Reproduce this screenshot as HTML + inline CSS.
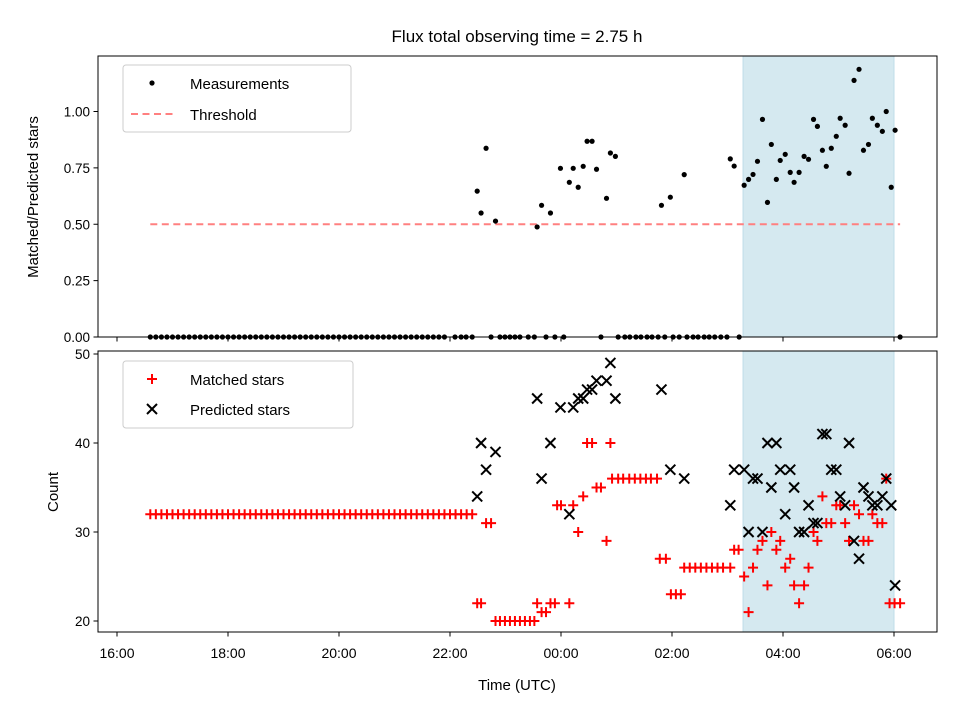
<!DOCTYPE html>
<html><head><meta charset="utf-8"><style>
body{margin:0;background:#fff;position:relative}
svg{font-family:"Liberation Sans","DejaVu Sans",sans-serif}
</style></head><body>
<svg id="chart" width="960" height="720" viewBox="0 0 960 720" xmlns="http://www.w3.org/2000/svg">
<rect width="960" height="720" fill="#fff"/>
<text x="517" y="42" font-size="17" text-anchor="middle">Flux total observing time = 2.75 h</text>
<g id="topPanel"></g>
<g id="botPanel"></g>
<text x="517" y="690" font-size="15" text-anchor="middle">Time (UTC)</text>
<text transform="translate(38,197) rotate(-90)" font-size="15" text-anchor="middle">Matched/Predicted stars</text>
<text transform="translate(58,492) rotate(-90)" font-size="15" text-anchor="middle">Count</text>
<g>
<rect x="123" y="65" width="228" height="67" rx="3" fill="#fff" fill-opacity="0.85" stroke="#ccc"/>
<circle cx="152" cy="83" r="2.6" fill="#000"/>
<text x="190" y="89" font-size="15">Measurements</text>
<line x1="131" x2="175" y1="114" y2="114" stroke="#ff8080" stroke-width="2" stroke-dasharray="7,4.5"/>
<text x="190" y="120" font-size="15">Threshold</text>
</g>
<g>
<rect x="123" y="361" width="230" height="67" rx="3" fill="#fff" fill-opacity="0.85" stroke="#ccc"/>
<path d="M147,379H157M152,374V384" stroke="#f00" stroke-width="2"/>
<text x="190" y="385" font-size="15">Matched stars</text>
<path d="M147,404L157,414M147,414L157,404" stroke="#000" stroke-width="2"/>
<text x="190" y="415" font-size="15">Predicted stars</text>
</g>
</svg>
<script>
// times: hours after 16:00
const xTickHours=[0,2,4,6,8,10,12,14];
const xTickLabels=["16:00","18:00","20:00","22:00","00:00","02:00","04:00","06:00"];
const ratioTicks=[0,0.25,0.5,0.75,1.0];
const ratioTickLabels=["0.00","0.25","0.50","0.75","1.00"];
const countTicks=[20,30,40,50];
const threshold=0.5;
const thresholdSpan=[0.6,14.11];
const shadeSpan=[11.28,14.0];
const measTimes=[6.49,6.56,6.65,6.82,7.57,7.65,7.81,7.99,8.15,8.22,8.31,8.40,8.47,8.56,8.64,8.82,8.89,8.98,9.81,9.97,10.22,11.05,11.12,11.30,11.38,11.46,11.54,11.63,11.72,11.79,11.88,11.95,12.04,12.13,12.20,12.29,12.38,12.46,12.55,12.62,12.71,12.78,12.87,12.96,13.03,13.12,13.19,13.28,13.37,13.45,13.54,13.61,13.70,13.79,13.86,13.95,14.02];
const measValues=[0.647,0.55,0.837,0.514,0.488,0.584,0.55,0.748,0.686,0.748,0.664,0.757,0.868,0.868,0.744,0.615,0.816,0.801,0.584,0.62,0.72,0.79,0.758,0.673,0.699,0.721,0.779,0.965,0.597,0.854,0.699,0.783,0.81,0.73,0.686,0.73,0.801,0.788,0.965,0.934,0.828,0.757,0.837,0.89,0.97,0.939,0.726,1.138,1.187,0.828,0.854,0.97,0.939,0.912,1.0,0.664,0.917];
const zeroTimes=[0.6,0.7,0.8,0.9,1.0,1.1,1.2,1.3,1.4,1.5,1.6,1.7,1.8,1.9,2.0,2.1,2.2,2.3,2.4,2.5,2.6,2.7,2.8,2.9,3.0,3.1,3.2,3.3,3.4,3.5,3.6,3.7,3.8,3.9,4.0,4.1,4.2,4.3,4.4,4.5,4.6,4.7,4.8,4.9,5.0,5.1,5.2,5.3,5.4,5.5,5.6,5.7,5.8,5.9,6.09,6.2,6.29,6.4,6.74,6.9,6.99,7.08,7.17,7.26,7.41,7.52,7.73,7.89,8.05,8.72,9.03,9.15,9.24,9.35,9.44,9.55,9.64,9.75,9.87,10.02,10.13,10.27,10.38,10.47,10.58,10.67,10.77,10.88,10.99,11.21,14.11];
const matchedTimes=[0.6,0.7,0.8,0.9,1.0,1.1,1.2,1.3,1.4,1.5,1.6,1.7,1.8,1.9,2.0,2.1,2.2,2.3,2.4,2.5,2.6,2.7,2.8,2.9,3.0,3.1,3.2,3.3,3.4,3.5,3.6,3.7,3.8,3.9,4.0,4.1,4.2,4.3,4.4,4.5,4.6,4.7,4.8,4.9,5.0,5.1,5.2,5.3,5.4,5.5,5.6,5.7,5.8,5.9,6.0,6.1,6.2,6.3,6.4,
6.49,6.56,6.65,6.74,6.82,6.90,6.99,7.08,7.17,7.26,7.35,7.44,7.52,7.57,7.65,7.73,7.81,7.89,7.93,8.0,8.15,8.22,8.31,8.40,8.47,8.56,8.64,8.72,8.82,8.89,8.92,9.03,9.12,9.23,9.33,9.43,9.53,9.62,9.73,9.78,9.89,9.98,10.07,10.16,10.22,10.32,10.42,10.52,10.62,10.72,10.82,10.92,11.05,11.12,11.20,
11.30,11.38,11.46,11.54,11.63,11.72,11.79,11.88,11.95,12.04,12.13,12.20,12.29,12.38,12.46,12.55,12.62,12.71,12.78,12.87,12.96,13.03,13.12,13.19,13.28,13.37,13.45,13.54,13.61,13.70,13.79,13.86,13.92,14.01,14.11];
const matchedValues=[32,32,32,32,32,32,32,32,32,32,32,32,32,32,32,32,32,32,32,32,32,32,32,32,32,32,32,32,32,32,32,32,32,32,32,32,32,32,32,32,32,32,32,32,32,32,32,32,32,32,32,32,32,32,32,32,32,32,32,
22,22,31,31,20,20,20,20,20,20,20,20,20,22,21,21,22,22,33,33,22,33,30,34,40,40,35,35,29,40,36,36,36,36,36,36,36,36,36,27,27,23,23,23,26,26,26,26,26,26,26,26,26,28,28,
25,21,26,28,29,24,30,28,29,26,27,24,22,24,26,30,29,34,31,31,33,33,31,29,33,32,29,29,32,31,31,36,22,22,22];
const predTimes=[6.49,6.56,6.65,6.82,7.57,7.65,7.81,7.99,8.15,8.22,8.31,8.40,8.47,8.56,8.64,8.82,8.89,8.98,9.81,9.97,10.22,11.05,11.12,11.30,11.38,11.46,11.54,11.63,11.72,11.79,11.88,11.95,12.04,12.13,12.20,12.29,12.38,12.46,12.55,12.62,12.71,12.78,12.87,12.96,13.03,13.12,13.19,13.28,13.37,13.45,13.54,13.61,13.70,13.79,13.86,13.95,14.02];
const predValues=[34,40,37,39,45,36,40,44,32,44,45,45,46,46,47,47,49,45,46,37,36,33,37,37,30,36,36,30,40,35,40,37,32,37,35,30,30,33,31,31,41,41,37,37,34,33,40,29,27,35,34,33,33,34,36,33,24];

const NS="http://www.w3.org/2000/svg";
const L=98,R=937;
const xs=h=>117+h*55.5;
const yTop=v=>337-v*225.5;
const yBot=c=>621-(c-20)*8.9;
function mk(p,tag,a){const e=document.createElementNS(NS,tag);for(const k in a)e.setAttribute(k,a[k]);p.appendChild(e);return e;}
const topG=document.getElementById('topPanel'),botG=document.getElementById('botPanel');

function panel(g,y0,y1,name){
  const s=mk(g,'rect',{x:xs(shadeSpan[0]),y:y0,width:xs(shadeSpan[1])-xs(shadeSpan[0]),height:y1-y0,fill:'#d5e9f0',stroke:'#bfdde9','stroke-width':1});
  
  
}
panel(topG,56,337,'top');panel(botG,351,632,'bottom');

const th=mk(topG,'line',{x1:xs(thresholdSpan[0]),x2:xs(thresholdSpan[1]),y1:yTop(threshold),y2:yTop(threshold),stroke:'#ff8080','stroke-width':2,'stroke-dasharray':'7,4.5'});



zeroTimes.forEach(t=>{const c=mk(topG,'circle',{cx:xs(t),cy:yTop(0),r:2.6,fill:'#000'});

});
measTimes.forEach((t,i)=>{const c=mk(topG,'circle',{cx:xs(t),cy:yTop(measValues[i]),r:2.6,fill:'#000'});

});

function plus(g,x,y){return mk(g,'path',{d:`M${x-5},${y}H${x+5}M${x},${y-5}V${y+5}`,stroke:'#f00','stroke-width':2,fill:'none'});}
function cross(g,x,y){return mk(g,'path',{d:`M${x-5},${y-5}L${x+5},${y+5}M${x-5},${y+5}L${x+5},${y-5}`,stroke:'#000','stroke-width':2,fill:'none'});}
matchedTimes.forEach((t,i)=>{const p=plus(botG,xs(t),yBot(matchedValues[i]));

});
predTimes.forEach((t,i)=>{const p=cross(botG,xs(t),yBot(predValues[i]));

});

function frame(g,y0,y1,name){
  const f=mk(g,'rect',{x:L,y:y0,width:R-L,height:y1-y0,fill:'none',stroke:'#000','stroke-width':1});
  
  
  xTickHours.forEach(h=>{mk(g,'line',{x1:xs(h),x2:xs(h),y1:y1,y2:y1+4.5,stroke:'#000','stroke-width':1});});
}
frame(topG,56,337,'top');frame(botG,351,632,'bottom');
xTickHours.forEach((h,i)=>{const t=mk(botG,'text',{x:xs(h),y:658,'font-size':14,'text-anchor':'middle'});t.textContent=xTickLabels[i];

});
ratioTicks.forEach((v,i)=>{mk(topG,'line',{x1:L-4.5,x2:L,y1:yTop(v),y2:yTop(v),stroke:'#000'});
const t=mk(topG,'text',{x:L-8,y:yTop(v)+5,'font-size':13.5,'text-anchor':'end'});t.textContent=ratioTickLabels[i];

});
countTicks.forEach(v=>{mk(botG,'line',{x1:L-4.5,x2:L,y1:yBot(v),y2:yBot(v),stroke:'#000'});
const t=mk(botG,'text',{x:L-8,y:yBot(v)+5,'font-size':13.5,'text-anchor':'end'});t.textContent=String(v);

});
</script>
</body></html>
